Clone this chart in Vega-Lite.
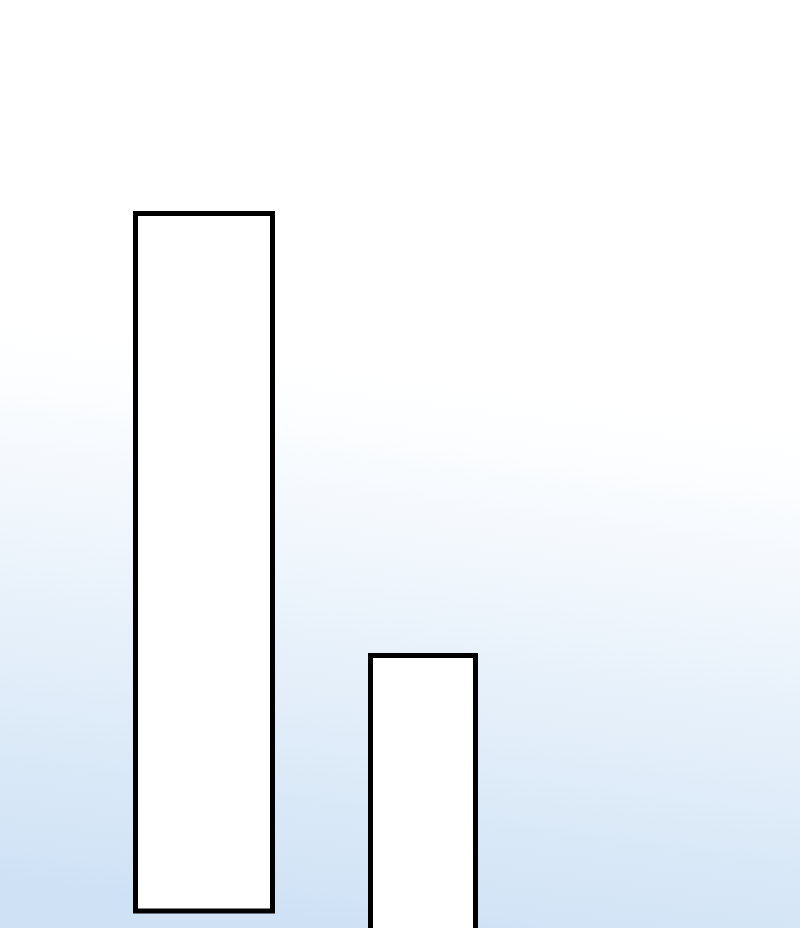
{
  "$schema": "https://vega.github.io/schema/vega-lite/v6.json",
  "width": 800,
  "height": 928,
  "autosize": {"type": "fit", "contains": "padding"},
  "padding": 0,
  "background": "#ffffff",
  "config": {
    "view": {
      "stroke": null,
      "fill": {
        "gradient": "linear",
        "x1": 0.54, "y1": 0.4, "x2": 0.47, "y2": 1,
        "stops": [
          {"offset": 0, "color": "#ffffff"},
          {"offset": 0.08, "color": "#fdfeff"},
          {"offset": 1, "color": "#cfe2f5"}
        ]
      }
    }
  },
  "data": {
    "values": [
      {"bar": "A", "left": 135.5, "right": 272.5, "low": 17, "high": 714.5},
      {"bar": "B", "left": 370.5, "right": 475.5, "low": -20, "high": 272.5}
    ]
  },
  "mark": {
    "type": "rect",
    "fill": "#ffffff",
    "stroke": "#000000",
    "strokeWidth": 5,
    "clip": true
  },
  "encoding": {
    "x": {"field": "left", "type": "quantitative", "scale": {"domain": [0, 800], "nice": false, "zero": false}, "axis": null},
    "x2": {"field": "right"},
    "y": {"field": "low", "type": "quantitative", "scale": {"domain": [0, 928], "nice": false, "zero": false}, "axis": null},
    "y2": {"field": "high"}
  }
}
